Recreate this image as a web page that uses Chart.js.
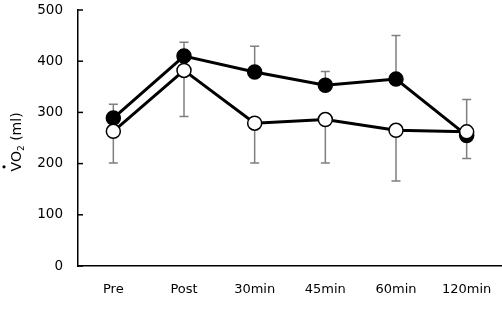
<!DOCTYPE html>
<html>
<head>
<meta charset="utf-8">
<script src="https://cdn.jsdelivr.net/npm/chart.js@4"></script>
<style>
    html, body { margin: 0; padding: 0; background: #fff; }
    #wrap { width: 502px; height: 321px; position: relative; }
</style>
</head>
<body>
<div id="wrap"><canvas id="chart"></canvas></div>
<script>
// Data
const categories = ['Pre', 'Post', '30min', '45min', '60min', '120min'];
const filledValues = [289, 410, 379, 353, 365, 255];
const openValues = [263, 382, 279, 286, 265, 262];
// error bars: filled series shows upper SD, open series shows lower SD
const filledSD = [27, 27, 50, 27, 85, 70];
const openSD = [62, 90, 78, 85, 99, 52];
const yTicks = [0, 100, 200, 300, 400, 500];

const FONT = 'DejaVu Sans, Verdana, sans-serif';

// draws SD whiskers and the small inside ticks on the y axis
const errorBars = {
    id: 'errorBars',
    beforeDatasetsDraw(chart) {
        const ctx = chart.ctx;
        const x = chart.scales.x;
        const y = chart.scales.y;
        ctx.save();
        ctx.strokeStyle = '#7f7f7f';
        ctx.lineWidth = 1.5;
        const cap = 4.5;
        const whisker = (i, from, to) => {
            const px = x.getPixelForValue(i);
            const y0 = y.getPixelForValue(from);
            const y1 = y.getPixelForValue(to);
            ctx.beginPath();
            ctx.moveTo(px, y0);
            ctx.lineTo(px, y1);
            ctx.moveTo(px - cap, y1);
            ctx.lineTo(px + cap, y1);
            ctx.stroke();
        };
        categories.forEach((c, i) => {
            whisker(i, filledValues[i], filledValues[i] + filledSD[i]);
            whisker(i, openValues[i], openValues[i] - openSD[i]);
        });
        // y axis ticks (inside)
        ctx.strokeStyle = '#000';
        ctx.lineWidth = 1.5;
        yTicks.forEach(v => {
            const py = y.getPixelForValue(v);
            ctx.beginPath();
            ctx.moveTo(y.right, py);
            ctx.lineTo(y.right + 5, py);
            ctx.stroke();
        });
        ctx.restore();
    }
};

// y axis title: VO2 with dot over V and subscript 2
const yTitle = {
    id: 'yTitle',
    afterDraw(chart) {
        const ctx = chart.ctx;
        const area = chart.chartArea;
        const cy = (area.top + area.bottom) / 2 + 4;
        ctx.save();
        ctx.translate(21, cy);
        ctx.rotate(-Math.PI / 2);
        ctx.fillStyle = '#000';
        ctx.textBaseline = 'alphabetic';
        const big = '14px ' + FONT;
        const small = '9px ' + FONT;
        ctx.font = big;
        const wV = ctx.measureText('V').width;
        const wO = ctx.measureText('O').width;
        const wRest = ctx.measureText(' (ml)').width;
        ctx.font = small;
        const w2 = ctx.measureText('2').width;
        const total = wV + wO + w2 + wRest;
        let px = -total / 2;
        ctx.font = big;
        ctx.fillText('V', px, 0);
        ctx.beginPath();
        ctx.arc(px + wV / 2, -17, 1.6, 0, Math.PI * 2);
        ctx.fill();
        px += wV;
        ctx.fillText('O', px, 0);
        px += wO;
        ctx.font = small;
        ctx.fillText('2', px, 3);
        px += w2;
        ctx.font = big;
        ctx.fillText(' (ml)', px, 0);
        ctx.restore();
    }
};

new Chart(document.getElementById('chart'), {
    type: 'line',
    data: {
        labels: categories,
        datasets: [
            {
                data: openValues,
                borderColor: '#000',
                borderWidth: 3,
                pointRadius: 7,
                pointBorderWidth: 1.5,
                pointBackgroundColor: '#fff',
                pointBorderColor: '#000',
                tension: 0
            },
            {
                data: filledValues,
                borderColor: '#000',
                borderWidth: 3,
                pointRadius: 7,
                pointBorderWidth: 1.5,
                pointBackgroundColor: '#000',
                pointBorderColor: '#000',
                tension: 0
            }
        ]
    },
    options: {
        responsive: true,
        maintainAspectRatio: false,
        animation: false,
        layout: { autoPadding: false, padding: { top: 10, right: 0, left: 0, bottom: 0 } },
        plugins: {
            legend: { display: false },
            tooltip: { enabled: false }
        },
        scales: {
            x: {
                offset: true,
                grid: { display: false, drawTicks: false },
                border: { color: '#000', width: 1.5 },
                ticks: {
                    color: '#000',
                    padding: 16,
                    font: { family: FONT, size: 13 }
                },
                afterFit(scale) {
                    scale.height = 55;
                    scale.paddingLeft = 0;
                    scale.paddingRight = 0;
                }
            },
            y: {
                min: 0,
                max: 500,
                afterBuildTicks(scale) {
                    scale.ticks = yTicks.map(v => ({ value: v }));
                },
                grid: { display: false, drawTicks: false },
                border: { color: '#000', width: 1.5 },
                ticks: {
                    color: '#000',
                    padding: 15,
                    font: { family: FONT, size: 13.5 }
                },
                afterFit(scale) {
                    scale.width = 78;
                    scale.paddingTop = 0;
                    scale.paddingBottom = 0;
                }
            }
        }
    },
    plugins: [errorBars, yTitle]
});
</script>
</body>
</html>
